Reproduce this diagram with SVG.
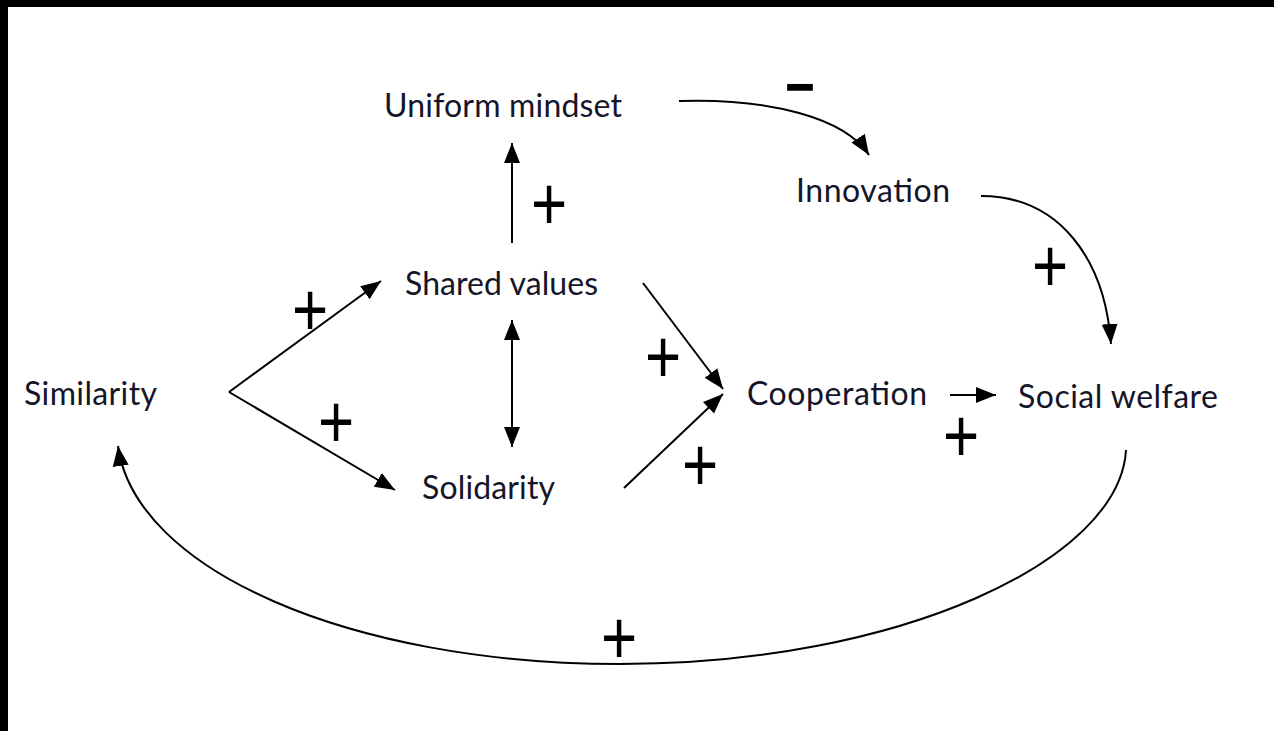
<svg xmlns="http://www.w3.org/2000/svg" width="1274" height="731" viewBox="0 0 1274 731">
<style>
.lbl{font-family:Lato,"Liberation Sans",sans-serif;font-size:32px;fill:#15152a}
.sgn{font-family:"Liberation Sans",Arial,sans-serif;font-size:62px;fill:#000;text-anchor:middle}
.ln{fill:none;stroke:#000;stroke-width:2}
</style>
<defs>
<marker id="ah" markerUnits="userSpaceOnUse" markerWidth="22" markerHeight="18" refX="20" refY="8" orient="auto-start-reverse" viewBox="0 0 22 16">
<path d="M0,0 L20,8 L0,16 z" fill="#000"/>
</marker>
</defs>
<rect x="0" y="0" width="1274" height="731" fill="#fff"/>
<rect x="0" y="0" width="1274" height="7" fill="#000"/>
<rect x="0" y="0" width="8" height="731" fill="#000"/>

<g id="connectors">
<path class="ln" d="M679,101 C770,98 845,118 869,155" marker-end="url(#ah)"/>
<path class="ln" d="M512,243 L512,143" marker-end="url(#ah)"/>
<path class="ln" d="M229,392 L381,281" marker-end="url(#ah)"/>
<path class="ln" d="M229,392 L395,490" marker-end="url(#ah)"/>
<path class="ln" d="M512,320 L512,447" marker-start="url(#ah)" marker-end="url(#ah)"/>
<path class="ln" d="M643,283 L723,389" marker-end="url(#ah)"/>
<path class="ln" d="M624,488 L723,394" marker-end="url(#ah)"/>
<path class="ln" d="M950,395 L996,395" marker-end="url(#ah)"/>
<path class="ln" d="M981,196 C1060,196 1105,260 1111,344" marker-end="url(#ah)"/>
<path class="ln" d="M1126,450 C1120,560 900,664 620,664 C350,664 135,570 118,446" marker-end="url(#ah)"/>
</g>

<g id="signs">
<text class="sgn" transform="translate(549,203) scale(1,1.22)" y="22">+</text>
<text class="sgn" transform="translate(310,309) scale(1,1.22)" y="22">+</text>
<text class="sgn" transform="translate(336,421) scale(1,1.22)" y="22">+</text>
<text class="sgn" transform="translate(663,356) scale(1,1.22)" y="22">+</text>
<text class="sgn" transform="translate(700,464) scale(1,1.22)" y="22">+</text>
<text class="sgn" transform="translate(961,435) scale(1,1.22)" y="22">+</text>
<text class="sgn" transform="translate(1050,265) scale(1,1.22)" y="22">+</text>
<text class="sgn" transform="translate(619,637) scale(1,1.22)" y="22">+</text>
<text class="sgn" style="font-size:53px" transform="translate(800,85) scale(1,1.8)" y="19">−</text>
</g>

<g id="node-uniform"><text class="lbl" x="384" y="117" textLength="238">Uniform mindset</text></g>
<g id="node-innovation"><text class="lbl" x="796" y="202" textLength="154">Innovation</text></g>
<g id="node-shared"><text class="lbl" x="405" y="295" textLength="193">Shared values</text></g>
<g id="node-similarity"><text class="lbl" x="24" y="405" textLength="133">Similarity</text></g>
<g id="node-solidarity"><text class="lbl" x="422" y="499" textLength="133">Solidarity</text></g>
<g id="node-cooperation"><text class="lbl" x="747" y="405" textLength="180">Cooperation</text></g>
<g id="node-welfare"><text class="lbl" x="1018" y="408" textLength="200">Social welfare</text></g>
</svg>
